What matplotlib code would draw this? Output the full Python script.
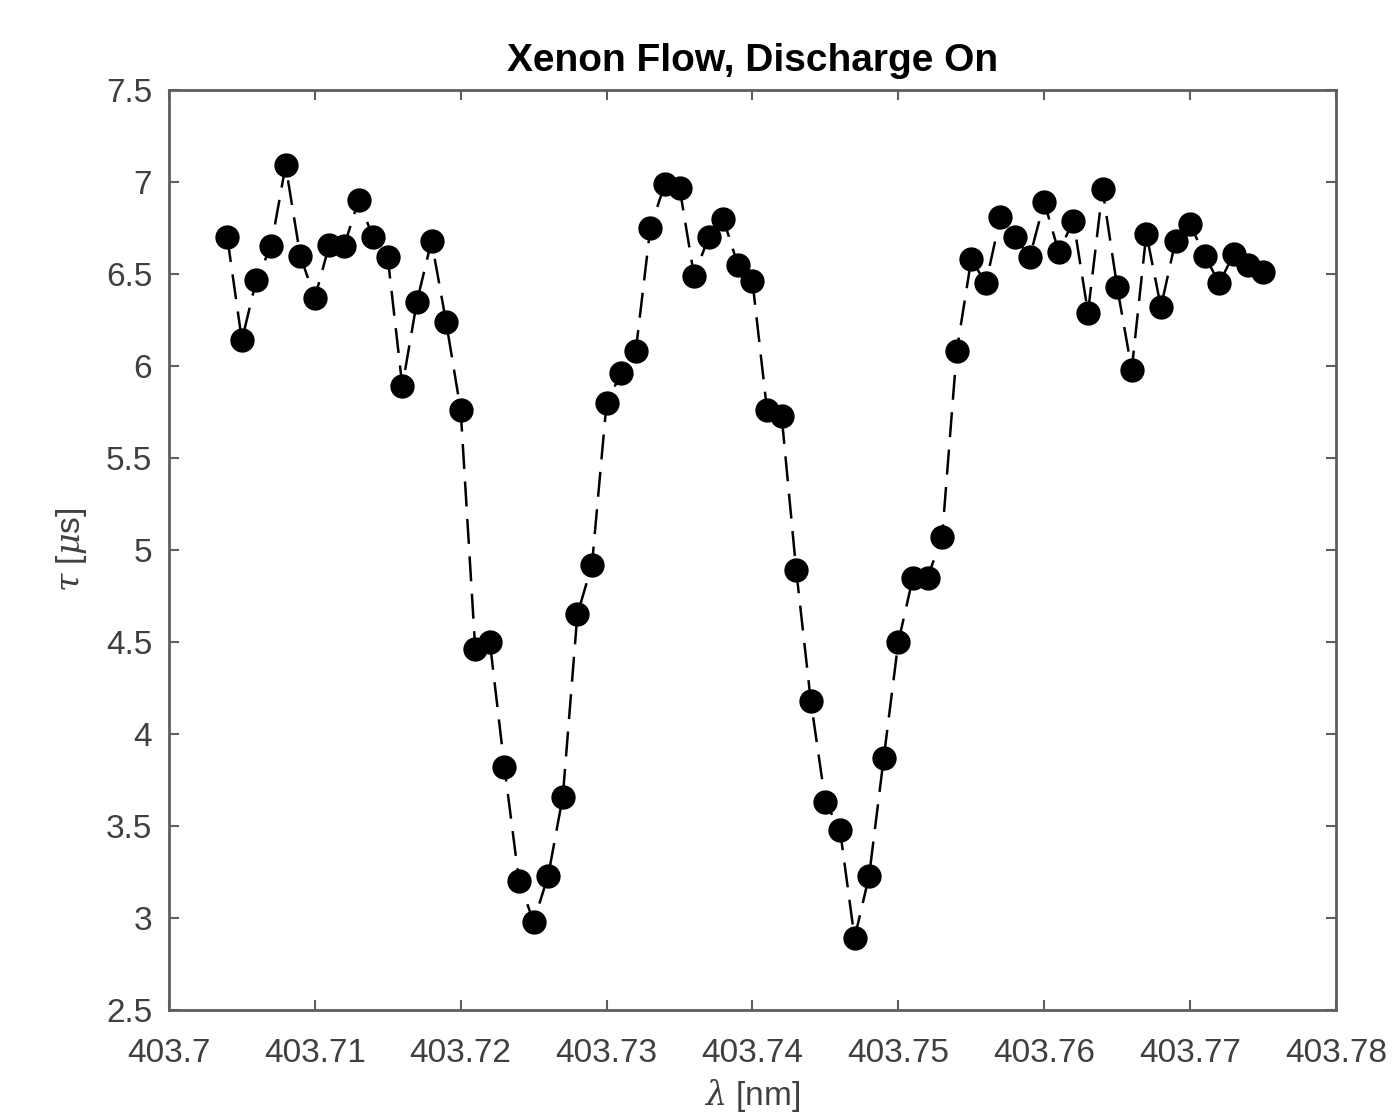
import numpy as np
import matplotlib
matplotlib.use('Agg')
import matplotlib.pyplot as plt

# Datos: longitud de onda [nm] y tiempo de vida tau [us]
wavelength = [403.704, 403.705, 403.706, 403.707, 403.708, 403.709, 403.710, 403.711,
              403.712, 403.713, 403.714, 403.715, 403.716, 403.717, 403.718, 403.719,
              403.720, 403.721, 403.722, 403.723, 403.724, 403.725, 403.726, 403.727,
              403.728, 403.729, 403.730, 403.731, 403.732, 403.733, 403.734, 403.735,
              403.736, 403.737, 403.738, 403.739, 403.740, 403.741, 403.742, 403.743,
              403.744, 403.745, 403.746, 403.747, 403.748, 403.749, 403.750, 403.751,
              403.752, 403.753, 403.754, 403.755, 403.756, 403.757, 403.758, 403.759,
              403.760, 403.761, 403.762, 403.763, 403.764, 403.765, 403.766, 403.767,
              403.768, 403.769, 403.770, 403.771, 403.772, 403.773, 403.774, 403.775]
tau = [6.70, 6.14, 6.47, 6.65, 7.09, 6.60, 6.37, 6.66,
       6.65, 6.90, 6.70, 6.59, 5.89, 6.35, 6.68, 6.24,
       5.76, 4.46, 4.50, 3.82, 3.20, 2.98, 3.23, 3.66,
       4.65, 4.92, 5.80, 5.96, 6.08, 6.75, 6.99, 6.97,
       6.49, 6.70, 6.80, 6.55, 6.46, 5.76, 5.73, 4.89,
       4.18, 3.63, 3.48, 2.89, 3.23, 3.87, 4.50, 4.85,
       4.85, 5.07, 6.08, 6.58, 6.45, 6.81, 6.70, 6.59,
       6.89, 6.62, 6.79, 6.29, 6.96, 6.43, 5.98, 6.72,
       6.32, 6.68, 6.77, 6.60, 6.45, 6.61, 6.55, 6.51]

xticks = [403.70, 403.71, 403.72, 403.73, 403.74, 403.75, 403.76, 403.77, 403.78]
xlabels = ['403.7', '403.71', '403.72', '403.73', '403.74', '403.75', '403.76', '403.77', '403.78']
yticks = [2.5, 3, 3.5, 4, 4.5, 5, 5.5, 6, 6.5, 7, 7.5]
ylabels = ['2.5', '3', '3.5', '4', '4.5', '5', '5.5', '6', '6.5', '7', '7.5']

plt.rcParams['font.family'] = ['Liberation Sans', 'DejaVu Sans']
plt.rcParams['mathtext.fontset'] = 'dejavuserif'
plt.rcParams['lines.scale_dashes'] = False

gris = '#404040'

fig = plt.figure(figsize=(13.96, 11.17), dpi=100)
ax = fig.add_axes([0.121, 0.0958, 0.836, 0.8236])

ax.plot(wavelength, tau, color='k', lw=1.8, dashes=(18, 9),
        marker='o', ms=16.5, mfc='k', mec='k')

ax.set_xlim(403.70, 403.78)
ax.set_ylim(2.5, 7.5)
ax.set_xticks(xticks)
ax.set_xticklabels(xlabels)
ax.set_yticks(yticks)
ax.set_yticklabels(ylabels)

for s in ax.spines.values():
    s.set_color('#5e5e5e')
    s.set_linewidth(2.0)
ax.tick_params(direction='in', length=7, width=1.5, colors='#5e5e5e',
               top=True, right=True, labelsize=24, labelcolor=gris)
ax.tick_params(axis='x', pad=20)
ax.tick_params(axis='y', pad=12)

ax.set_title('Xenon Flow, Discharge On', fontsize=28, fontweight='bold', pad=14)
ax.set_xlabel(r'$\lambda$ [nm]', fontsize=24, color=gris, labelpad=6)
ax.set_ylabel(r'$\tau$ [$\mu$s]', fontsize=24, color=gris, labelpad=12)

plt.savefig('out.png', dpi=100)
